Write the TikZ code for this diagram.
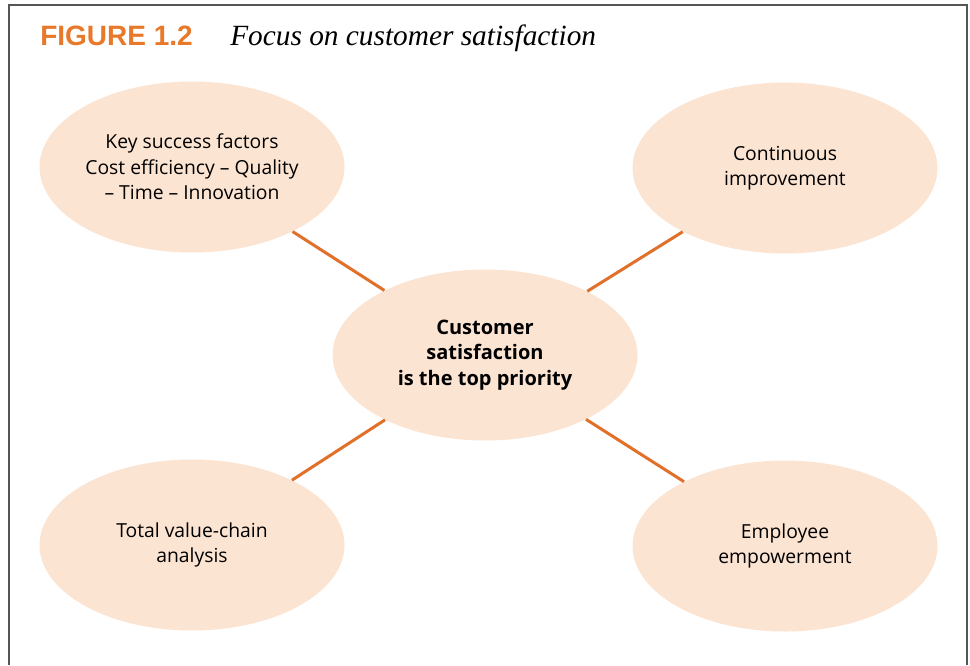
\documentclass[tikz,border=0pt]{standalone}
\usepackage{fontspec}
\setmainfont{Open Sans}
\newfontfamily\titlefont{Liberation Sans}
\newfontfamily\captionfont{Liberation Serif}
\usepackage{tikz}
\usetikzlibrary{shapes.geometric}

\definecolor{figorange}{HTML}{E8792A}
\definecolor{linkorange}{HTML}{E0702A}
\definecolor{bubble}{HTML}{FCE4D3}
\definecolor{framegray}{HTML}{555555}

\begin{document}
\begin{tikzpicture}[x=0.75pt, y=-0.75pt,
  bubble/.style={ellipse, fill=bubble, inner sep=0pt, align=center,
    minimum width=228.75pt, minimum height=128.25pt,
    font=\fontsize{14.5}{19}\selectfont},
  link/.style={draw=linkorange, line width=2.25pt}]
  \useasboundingbox (0,0) rectangle (970,665);
  % frame, open at the bottom
  \draw[framegray, line width=1.2pt] (9,665) -- (9,5) -- (967,5) -- (967,665);
  \node[anchor=base west, inner sep=0pt, text=figorange, font=\titlefont\bfseries\fontsize{21}{24}\selectfont] (fignum) at (40,45) {FIGURE 1.2};
  \node[anchor=base west, inner sep=0pt, font=\captionfont\itshape\fontsize{22}{24}\selectfont] (figtitle) at (230,45) {Focus on customer satisfaction};

  \node[bubble] (factors) at (192,167) {Key success factors\\Cost efficiency -- Quality\\-- Time -- Innovation};
  \node[bubble] (improve) at (785,168) {Continuous\\improvement};
  \node[bubble, font=\bfseries\fontsize{15}{19}\selectfont] (customer) at (485,355) {Customer\\satisfaction\\is the top priority};
  \node[bubble] (valuechain) at (192,545) {Total value-chain\\analysis};
  \node[bubble] (empower) at (785,546) {Employee\\empowerment};

  \draw[link] (factors) -- (customer);
  \draw[link] (improve) -- (customer);
  \draw[link] (valuechain) -- (customer);
  \draw[link] (empower) -- (customer);
\end{tikzpicture}
\end{document}
